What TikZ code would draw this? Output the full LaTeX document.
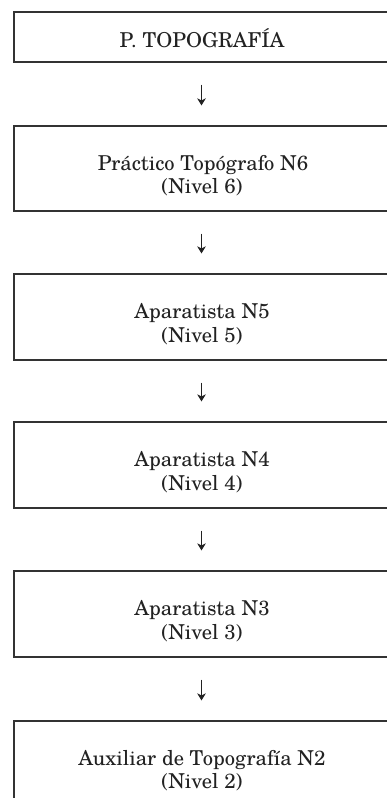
\documentclass[tikz,border=0pt]{standalone}
\usepackage{fontspec}
\setmainfont{TeX Gyre Schola}
\usetikzlibrary{arrows.meta}
\definecolor{ln}{HTML}{333333}
\definecolor{tx}{HTML}{222222}
\tikzset{
  box/.style={draw=ln, line width=1.15pt, minimum width=386pt, minimum height=86pt,
    inner sep=0pt},
  lbl/.style={anchor=base, inner sep=0pt, text=tx, font=\fontsize{20.5pt}{24pt}\selectfont},
  conn/.style={draw=tx, line width=1.3pt, -{Stealth[length=7pt,width=8.5pt,inset=2pt]},
    shorten <=22pt, shorten >=20pt}
}
\begin{document}
\begin{tikzpicture}[x=1pt,y=-1pt]
\useasboundingbox[fill=white] (0,0) rectangle (387,798);
\node[box, minimum height=50pt] (b1) at (207,37) {};
\node[box, minimum height=85pt] (b2) at (207,168.5) {};
\node[box] (b3) at (207,317) {};
\node[box] (b4) at (207,465) {};
\node[box] (b5) at (207,614) {};
\node[box] (b6) at (207,764) {};
\node[lbl] (t1) at (202,47) {P. TOPOGRAFÍA};
\node[lbl] (t2a) at (203,170) {Práctico Topógrafo N6};
\node[lbl] (t2b) at (202,193.5) {(Nivel 6)};
\node[lbl] (t3a) at (202,318.5) {Aparatista N5};
\node[lbl] (t3b) at (202,342) {(Nivel 5)};
\node[lbl] (t4a) at (202,466.5) {Aparatista N4};
\node[lbl] (t4b) at (202,490) {(Nivel 4)};
\node[lbl] (t5a) at (202,615.5) {Aparatista N3};
\node[lbl] (t5b) at (202,639) {(Nivel 3)};
\node[lbl] (t6a) at (202,765) {Auxiliar de Topografía N2};
\node[lbl] (t6b) at (202,788.5) {(Nivel 2)};
\coordinate (ax) at (201.5,0);
\draw[conn] (b1.south -| ax) -- (b2.north -| ax);
\draw[conn] (b2.south -| ax) -- (b3.north -| ax);
\draw[conn] (b3.south -| ax) -- (b4.north -| ax);
\draw[conn] (b4.south -| ax) -- (b5.north -| ax);
\draw[conn] (b5.south -| ax) -- (b6.north -| ax);
\end{tikzpicture}
\end{document}
